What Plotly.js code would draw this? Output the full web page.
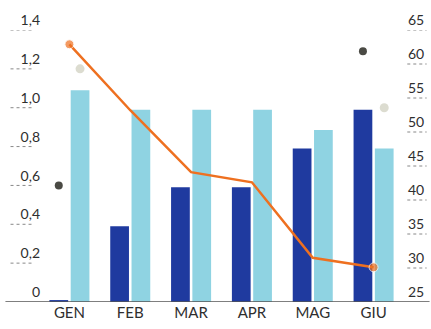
<!DOCTYPE html>
<html>
<head>
<meta charset="utf-8">
<script src="https://cdn.plot.ly/plotly-3.0.1.min.js"></script>
<style>
  html, body { margin: 0; padding: 0; background: #ffffff; }
  #chart { width: 431px; height: 329px; }
</style>
</head>
<body>
<div id="chart"></div>
<script>
// ---- Data ----
const months = ['GEN', 'FEB', 'MAR', 'APR', 'MAG', 'GIU'];
const darkBars = [0.01, 0.39, 0.59, 0.59, 0.79, 0.99];
const lightBars = [1.09, 0.99, 0.99, 0.99, 0.885, 0.79];
const lineVals = [62.9, 53.2, 44.1, 42.6, 31.5, 30.1];   // right axis
const darkDots = [0.6, null, null, null, null, 1.29];
const lightDots = [1.2, null, null, null, null, 1.0];

const leftTicks = [0, 0.2, 0.4, 0.6, 0.8, 1.0, 1.2, 1.4];
const leftTickText = ['0', '0,2', '0,4', '0,6', '0,8', '1,0', '1,2', '1,4'];
const rightTicks = [25, 30, 35, 40, 45, 50, 55, 60, 65];
const rightTickText = ['25', '30', '35', '40', '45', '50', '55', '60', '65'];

// ---- Styles ----
const DARK = '#1f3a9f';
const LIGHT = '#8fd3e2';
const ORANGE = '#ee7020';
const FONT = 'Lato, "Noto Sans", sans-serif';
const TXT = '#2e2e2e';

const n = lineVals.length;
const traces = [
  { type: 'bar', x: months, y: darkBars, name: 'dark', offsetgroup: 'a', alignmentgroup: 'g',
    marker: { color: DARK }, hoverinfo: 'skip' },
  { type: 'bar', x: months, y: lightBars, name: 'light', offsetgroup: 'b', alignmentgroup: 'g',
    marker: { color: LIGHT }, hoverinfo: 'skip' },
  { type: 'scatter', mode: 'markers', x: months, y: darkDots, offsetgroup: 'a', alignmentgroup: 'g',
    marker: { color: '#4a4a44', size: 8 }, hoverinfo: 'skip' },
  { type: 'scatter', mode: 'markers', x: months, y: lightDots, offsetgroup: 'b', alignmentgroup: 'g',
    marker: { color: '#dcdcd0', size: 9 }, hoverinfo: 'skip' },
  { type: 'scatter', mode: 'lines+markers', x: months, y: lineVals, xaxis: 'x2', yaxis: 'y2',
    line: { color: ORANGE, width: 2.5 },
    marker: { color: ORANGE, size: lineVals.map((v, i) => (i === 0 || i === n - 1) ? 9 : 0) },
    hoverinfo: 'skip' }
];

const shapes = [];
leftTicks.forEach((t) => {
  if (t === leftTicks[0]) return;
  shapes.push({ type: 'line', xref: 'paper', yref: 'y', x0: -0.078, x1: -0.015, y0: t, y1: t,
    line: { color: '#888', width: 1, dash: 'dot' } });
});
rightTicks.forEach((t) => {
  if (t === rightTicks[0]) return;
  shapes.push({ type: 'line', xref: 'paper', yref: 'y2', x0: 1.009, x1: 1.062, y0: t, y1: t,
    line: { color: '#888', width: 1, dash: 'dot' } });
});
shapes.push({ type: 'line', xref: 'paper', yref: 'y', x0: -0.092, x1: 1.07, y0: 0, y1: 0,
  line: { color: '#555', width: 1.5 } });

const layout = {
  width: 431, height: 329,
  margin: { l: 38.5, r: 26.5, t: 30, b: 27 },
  paper_bgcolor: '#ffffff', plot_bgcolor: '#ffffff',
  showlegend: false,
  barmode: 'group', bargap: 0.3, bargroupgap: 0.12,
  scattermode: 'group', scattergap: 0.3,
  font: { family: FONT, color: TXT, size: 15 },
  xaxis: { type: 'category', range: [-0.5, 5.5], showgrid: false, zeroline: false, showline: false,
    ticks: '', tickfont: { size: 15, color: TXT } },
  xaxis2: { type: 'category', overlaying: 'x', range: [-0.5, 5.5], visible: false, matches: 'x' },
  yaxis: { range: [0, 1.4], tickvals: leftTicks, ticktext: leftTickText, ticklabelposition: 'outside top',
    ticklabelstandoff: -2,
    showgrid: false, zeroline: false, showline: false, ticks: '', tickfont: { size: 14, color: TXT } },
  yaxis2: { range: [25, 65], overlaying: 'y', side: 'right', anchor: 'x2', tickvals: rightTicks, ticktext: rightTickText,
    ticklabelposition: 'outside top', ticklabelstandoff: 3, showgrid: false, zeroline: false, showline: false, ticks: '',
    tickfont: { size: 14, color: TXT } },
  shapes: shapes
};

Plotly.newPlot('chart', traces, layout, { staticPlot: true, displayModeBar: false });
</script>
</body>
</html>
